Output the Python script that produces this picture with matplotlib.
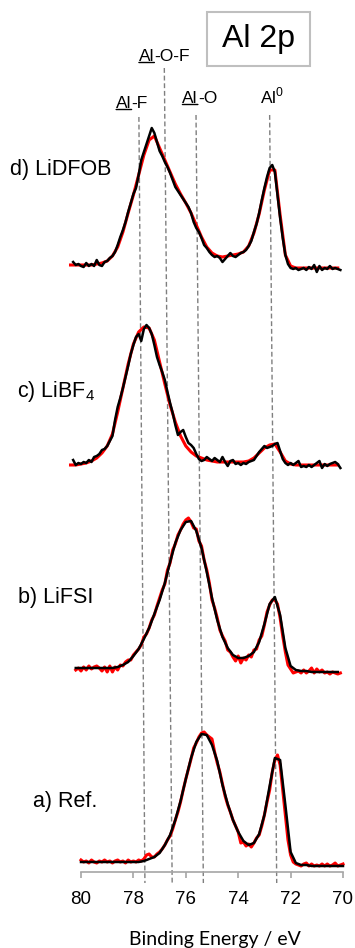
import numpy as np
import matplotlib
matplotlib.use('Agg')
import matplotlib.pyplot as plt
from matplotlib.patches import Rectangle

plt.rcParams['font.family'] = ['Liberation Sans', 'DejaVu Sans']
nan = np.nan

# binding energy (eV): raw scans every 0.1 eV, fitted envelopes every 0.2 eV
energy_raw = np.round(np.linspace(80.4, 70.0, 105), 1)
energy_fit = energy_raw[::2]

# vertical offsets used to stack the spectra (a. u.)
offset_a, offset_b, offset_c, offset_d = 10, 202, 407, 604

# d) LiDFOB : raw (black) and fit (red)
d_raw = [nan, 6, 3, 4, 2, 1, 5, 2, 4, 2,
         8, 3, 2, 6, 7, 10, 12, 16, 23, 31,
         38, 46, 56, 65, 74, 80, 93, 108, 116, 124,
         132, 140, 135, 126, 117, 112, 106, 101, 95, 88,
         81, 77, 73, 69, 65, 61, 55, 46, 40, 36,
         30, 23, 20, 16, 13, 11, 12, 10, 6, 9,
         12, 15, 12, 11, 13, 15, 16, 18, 22, 27,
         36, 44, 55, 68, 80, 91, 100, 103, 96, 73,
         50, 30, 13, 4, 0, -1, 0, -2, -1, 0,
         -2, 1, -1, 3, -4, 2, -2, 0, -1, 2,
         -1, 0, -1, -2, nan]
d_fit = [3, 3, 3, 3, 3, 4, 5, 7, 12, 21,
         36, 55, 73, 93, 113, 128, 132, 120, 108, 96,
         84, 74, 65, 55, 43, 31, 21, 15, 12, 11,
         12, 13, 14, 16, 22, 35, 54, 78, 98, 98,
         53, 13, 2, 0, 0, 0, 0, 0, 0, 0,
         0, 0, nan]

# c) LiBF4 : raw (black) and fit (red)
c_raw = [nan, 5, 0, 2, 1, 3, 2, 5, 3, 8,
         9, 11, 15, 16, 19, 24, 29, 45, 58, 67,
         77, 88, 99, 111, 120, 128, 131, 124, 136, 140,
         137, 131, 120, 108, 100, 93, 85, 73, 62, 52,
         40, 30, 33, 35, 28, 22, 20, 17, 11, 6,
         4, 5, 8, 6, 4, 7, 5, 3, 8, 3,
         -1, 4, 5, 1, 2, 0, 2, 1, 3, 4,
         5, 9, 13, 16, 19, 17, 18, 19, 21, 22,
         14, 6, 2, 0, 2, 0, 2, 4, -2, -1,
         -2, 0, -2, 0, 2, 4, -3, 1, -1, 1,
         2, 3, 1, -3, nan]
c_fit = [0, 0, 1, 2, 4, 7, 12, 19, 31, 53,
         77, 101, 121, 133, 138, 137, 125, 103, 81, 60,
         43, 29, 19, 13, 9, 7, 5, 4, 3, 3,
         3, 3, 3, 3, 4, 7, 12, 17, 20, 21,
         13, 4, 1, 0, 0, 0, 0, 0, 0, 0,
         0, 0, nan]

# b) LiFSI : raw (red) and fit (black)
b_raw = [nan, nan, 0, 2, -1, 3, 0, 4, 1, 3,
         4, 2, -1, 3, -2, 4, -2, 3, 0, 5,
         4, 8, 10, 10, 15, 18, 21, 25, 33, 36,
         42, 50, 55, 64, 72, 80, 86, 100, 107, 120,
         126, 135, 140, 146, 150, 152, 148, 142, 141, 129,
         124, 110, 100, 87, 70, 62, 52, 40, 34, 29,
         20, 18, 13, 9, 14, 7, 12, 10, 15, 13,
         20, 21, 30, 34, 45, 58, 65, 70, 70, 66,
         52, 34, 18, 5, 1, -3, -2, -1, -3, 0,
         -3, -1, 2, -3, 1, -2, 0, -3, -2, -4,
         -2, -3, -4, -3, nan]
b_fit = [nan, 2, 2, 2, 2, 2, 2, 2, 2, 3,
         5, 8, 14, 21, 31, 42, 56, 70, 87, 108,
         127, 140, 148, 149, 139, 122, 98, 72, 50, 33,
         22, 15, 12, 12, 14, 18, 28, 46, 66, 73,
         55, 22, 4, 0, -1, -1, -2, -2, -2, -2,
         -2, -2, nan]

# a) Ref. : raw (red) and fit (black)
a_raw = [nan, nan, nan, nan, 2, 0, 1, -1, 2, 0,
         -1, 1, 0, 2, 0, 1, -1, 1, 2, 0,
         1, -1, 2, 0, 1, 0, 2, 1, 3, 7,
         8, 5, 5, 8, 10, 13, 17, 22, 26, 33,
         42, 50, 60, 72, 83, 93, 103, 114, 119, 125,
         129, 130, 127, 125, 123, 110, 99, 90, 78, 66,
         57, 50, 42, 36, 30, 19, 20, 16, 18, 15,
         19, 24, 27, 36, 47, 60, 72, 90, 102, 107,
         97, 72, 47, 22, 7, 0, -2, -3, -4, -2,
         -1, -4, -2, -4, -3, -4, -2, -4, -2, -4,
         -3, -1, -4, -3, -2]
a_fit = [nan, nan, 0, 0, 0, 0, 0, 0, 0, 0,
         0, 0, 0, 0, 1, 3, 5, 9, 17, 27,
         42, 61, 83, 104, 120, 128, 127, 117, 101, 77,
         58, 42, 30, 21, 17, 19, 28, 47, 76, 104,
         102, 57, 10, -1, -3, -3, -4, -4, -4, -4,
         -4, -4, -4]

# reference binding energies (slightly tilted guide lines: top / bottom)
guide_top = [77.79, 76.82, 75.61, 72.80]
guide_bottom = [77.56, 76.52, 75.33, 72.53]
guide_top_y = [755, 804, 757, 757]

sample_labels = ['a) Ref.', 'b) LiFSI', r'c) LiBF$_\mathregular{4}$', 'd) LiDFOB']
xticks = [80, 78, 76, 74, 72, 70]

fig = plt.figure(figsize=(3.55, 9.48), dpi=100)
ax = fig.add_axes([81 / 355, 76 / 948, 262 / 355, 872 / 948])
ax.set_xlim(80, 70)
ax.set_ylim(0, 872)

red, black = '#ff0000', '#000000'

# guide lines
for et, eb, yt in zip(guide_top, guide_bottom, guide_top_y):
    ax.plot([et, eb], [yt, -11], color='#7f7f7f', lw=1.0, dashes=(3.5, 2),
            clip_on=False, zorder=1)

# d and c: black raw on red fit
ax.plot(energy_fit, np.array(d_fit) + offset_d, color=red, lw=2.2, clip_on=False, zorder=2)
ax.plot(energy_raw, np.array(d_raw) + offset_d, color=black, lw=1.8, clip_on=False, zorder=3)
ax.plot(energy_fit, np.array(c_fit) + offset_c, color=red, lw=2.2, clip_on=False, zorder=2)
ax.plot(energy_raw, np.array(c_raw) + offset_c, color=black, lw=1.8, clip_on=False, zorder=3)
# b and a: black fit on red raw
ax.plot(energy_raw, np.array(b_raw) + offset_b, color=red, lw=2.2, clip_on=False, zorder=2)
ax.plot(energy_fit, np.array(b_fit) + offset_b, color=black, lw=1.8, clip_on=False, zorder=3)
ax.plot(energy_raw, np.array(a_raw) + offset_a, color=red, lw=2.2, clip_on=False, zorder=2)
ax.plot(energy_fit, np.array(a_fit) + offset_a, color=black, lw=1.8, clip_on=False, zorder=3)

# sample labels
label_pos = [(81.83, 70), (82.40, 274), (82.44, 480), (82.71, 702)]
for txt, (xe, yh) in zip(sample_labels, label_pos):
    ax.text(xe, yh, txt, ha='left', va='center', fontsize=15.5)


def underlined_label(x, y, head, tail):
    t = ax.text(x, y, head, ha='left', va='baseline', fontsize=12.5)
    ax.annotate(tail, xy=(1, 0), xycoords=t, ha='left', va='bottom', fontsize=12.5)
    ax.annotate('', xy=(0, 0.1), xycoords=t, xytext=(1, 0.1), textcoords=t,
                arrowprops=dict(arrowstyle='-', lw=1.0, color='black',
                                shrinkA=0, shrinkB=0))


underlined_label(78.66, 764, 'Al', '-F')
underlined_label(77.79, 811, 'Al', '-O-F')
underlined_label(76.13, 769, 'Al', '-O')
ax.text(73.17, 769, r'Al$^\mathregular{0}$', ha='left', va='baseline', fontsize=12.5)

# title box
fig.patches.append(Rectangle((207 / 355, 1 - 66 / 948), 103 / 355, 54 / 948,
                             transform=fig.transFigure, fill=False,
                             ec='#bfbfbf', lw=1.5))
fig.text(258.5 / 355, 1 - 39 / 948, 'Al 2p', ha='center', va='center', fontsize=23)

for s in ['left', 'right', 'top']:
    ax.spines[s].set_visible(False)
ax.spines['bottom'].set_color('#a6a6a6')
ax.spines['bottom'].set_linewidth(1.2)
ax.set_yticks([])
ax.set_xticks(xticks)
ax.tick_params(axis='x', direction='out', length=4, width=1.2, color='#a6a6a6',
               labelsize=13.5, pad=10)

fig.text(215 / 355, 1 - 939 / 948, 'Binding Energy / eV', ha='center', va='center',
         fontsize=14, family=['Lato', 'DejaVu Sans'])

fig.savefig('out.png', dpi=100)
